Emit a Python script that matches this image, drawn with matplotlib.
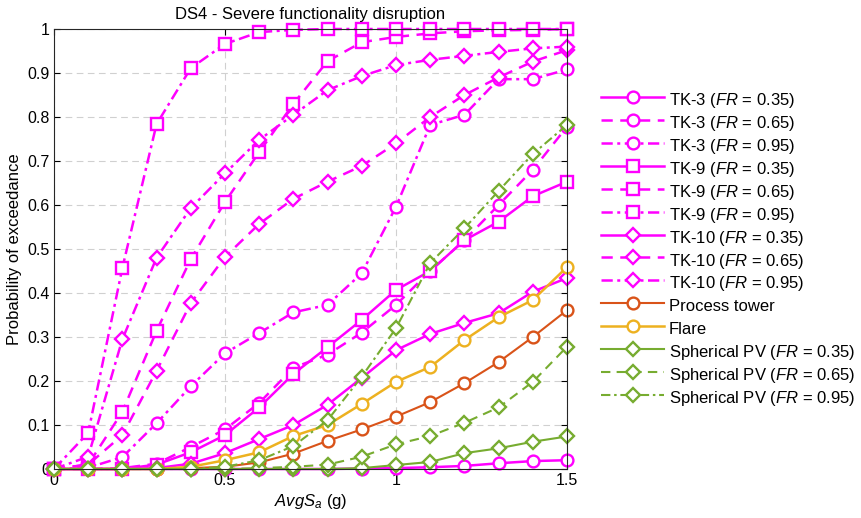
import numpy as np
import matplotlib
matplotlib.use('Agg')
import matplotlib.pyplot as plt

plt.rcParams['font.family'] = ['Liberation Sans', 'DejaVu Sans']
plt.rcParams['mathtext.fontset'] = 'custom'
plt.rcParams['mathtext.rm'] = 'Liberation Sans'
plt.rcParams['mathtext.it'] = 'Liberation Sans:italic'

# AvgSa (g)
x = np.round(np.arange(0, 1.51, 0.1), 2)

tk3_035 = [0, 0, 0, 0, 0, 0, 0, 0, 0, 0.001, 0.002, 0.004, 0.007, 0.013, 0.018, 0.02]
tk3_065 = [0, 0, 0.002, 0.012, 0.05, 0.09, 0.15, 0.23, 0.26, 0.31, 0.373, 0.45, 0.52, 0.60, 0.68, 0.778]
tk3_095 = [0, 0.003, 0.027, 0.104, 0.188, 0.263, 0.309, 0.356, 0.373, 0.445, 0.596, 0.782, 0.805, 0.886, 0.886, 0.908]
tk9_035 = [0, 0, 0, 0.01, 0.038, 0.077, 0.14, 0.216, 0.277, 0.339, 0.407, 0.45, 0.52, 0.562, 0.62, 0.653]
tk9_065 = [0, 0.01, 0.13, 0.314, 0.477, 0.607, 0.72, 0.83, 0.927, 0.97, 0.982, 0.99, 0.995, 0.997, 0.998, 1.0]
tk9_095 = [0, 0.082, 0.457, 0.784, 0.911, 0.966, 0.993, 0.998, 1, 1, 1, 1, 1, 1, 1, 1]
tk10_035 = [0, 0, 0, 0.002, 0.012, 0.036, 0.068, 0.1, 0.146, 0.207, 0.27, 0.307, 0.332, 0.354, 0.403, 0.434]
tk10_065 = [0, 0.01, 0.077, 0.223, 0.377, 0.482, 0.557, 0.614, 0.653, 0.689, 0.74, 0.8, 0.85, 0.89, 0.926, 0.952]
tk10_095 = [0, 0.028, 0.295, 0.48, 0.593, 0.672, 0.748, 0.805, 0.861, 0.893, 0.918, 0.93, 0.939, 0.948, 0.956, 0.96]
process_tower = [0, 0, 0, 0, 0.002, 0.005, 0.015, 0.035, 0.064, 0.09, 0.119, 0.152, 0.195, 0.243, 0.3, 0.361]
flare = [0, 0, 0, 0, 0.005, 0.02, 0.038, 0.075, 0.1, 0.148, 0.198, 0.232, 0.293, 0.345, 0.384, 0.459]
spv_035 = [0, 0, 0, 0, 0, 0, 0, 0, 0, 0.002, 0.009, 0.016, 0.036, 0.047, 0.062, 0.074]
spv_065 = [0, 0, 0, 0, 0, 0, 0.002, 0.005, 0.01, 0.028, 0.056, 0.075, 0.105, 0.14, 0.198, 0.278]
spv_095 = [0, 0, 0, 0, 0, 0.005, 0.02, 0.052, 0.111, 0.21, 0.32, 0.468, 0.547, 0.632, 0.716, 0.782]

MAG = '#FF00FF'
RED = '#D95319'
YEL = '#EDB120'
GRN = '#77AC30'
dash = (0, (4.5, 3))
dashdot = (0, (4.5, 1.8, 1.2, 1.8))

series = [
    ('TK-3 ($FR$ = 0.35)', tk3_035, MAG, '-', 'o'),
    ('TK-3 ($FR$ = 0.65)', tk3_065, MAG, dash, 'o'),
    ('TK-3 ($FR$ = 0.95)', tk3_095, MAG, dashdot, 'o'),
    ('TK-9 ($FR$ = 0.35)', tk9_035, MAG, '-', 's'),
    ('TK-9 ($FR$ = 0.65)', tk9_065, MAG, dash, 's'),
    ('TK-9 ($FR$ = 0.95)', tk9_095, MAG, dashdot, 's'),
    ('TK-10 ($FR$ = 0.35)', tk10_035, MAG, '-', 'D'),
    ('TK-10 ($FR$ = 0.65)', tk10_065, MAG, dash, 'D'),
    ('TK-10 ($FR$ = 0.95)', tk10_095, MAG, dashdot, 'D'),
    ('Process tower', process_tower, RED, '-', 'o'),
    ('Flare', flare, YEL, '-', 'o'),
    ('Spherical PV ($FR$ = 0.35)', spv_035, GRN, '-', 'D'),
    ('Spherical PV ($FR$ = 0.65)', spv_065, GRN, dash, 'D'),
    ('Spherical PV ($FR$ = 0.95)', spv_095, GRN, dashdot, 'D'),
]

fig = plt.figure(figsize=(8.62, 5.18), dpi=100)
ax = fig.add_axes([0.0626, 0.0946, 0.5952, 0.8494])

for label, y, col, ls, mk in series:
    ms = {'o': 8.5, 's': 8, 'D': 7}[mk]
    lw = 1.5 if col in (RED, GRN) else 1.8
    ax.plot(x, y, color=col, linestyle=ls, linewidth=lw, marker=mk, markersize=ms,
            markerfacecolor='white', markeredgecolor=col, markeredgewidth=1.7,
            label=label, clip_on=False)

ax.set_xlim(0, 1.5)
ax.set_ylim(0, 1)
ax.set_xticks([0, 0.5, 1, 1.5])
ax.set_xticklabels(['0', '0.5', '1', '1.5'])
ax.set_yticks(np.round(np.arange(0, 1.01, 0.1), 1))
ax.set_yticklabels(['0'] + ['%.1f' % v for v in np.arange(0.1, 0.95, 0.1)] + ['1'])
ax.grid(True, color='#d0d0d0', linestyle=(0, (6, 4)), linewidth=0.8)
ax.set_axisbelow(True)
ax.tick_params(direction='in', length=4, labelsize=11.5, top=True, right=True, pad=3,
               labeltop=False, labelright=False)
for sp in ax.spines.values():
    sp.set_linewidth(0.8)
    sp.set_color('#262626')

ax.set_title('DS4 - Severe functionality disruption', fontsize=12, pad=7)
ax.set_xlabel(r'$AvgS_a$ (g)', fontsize=12, labelpad=3)
ax.set_ylabel('Probability of exceedance', fontsize=12, labelpad=4)

fig.legend(loc='center left', bbox_to_anchor=(0.68, 0.52), frameon=False, fontsize=12,
           handlelength=3.8, handletextpad=0.25, handleheight=1.6, labelspacing=0.09)

fig.savefig('out.png', dpi=100)
